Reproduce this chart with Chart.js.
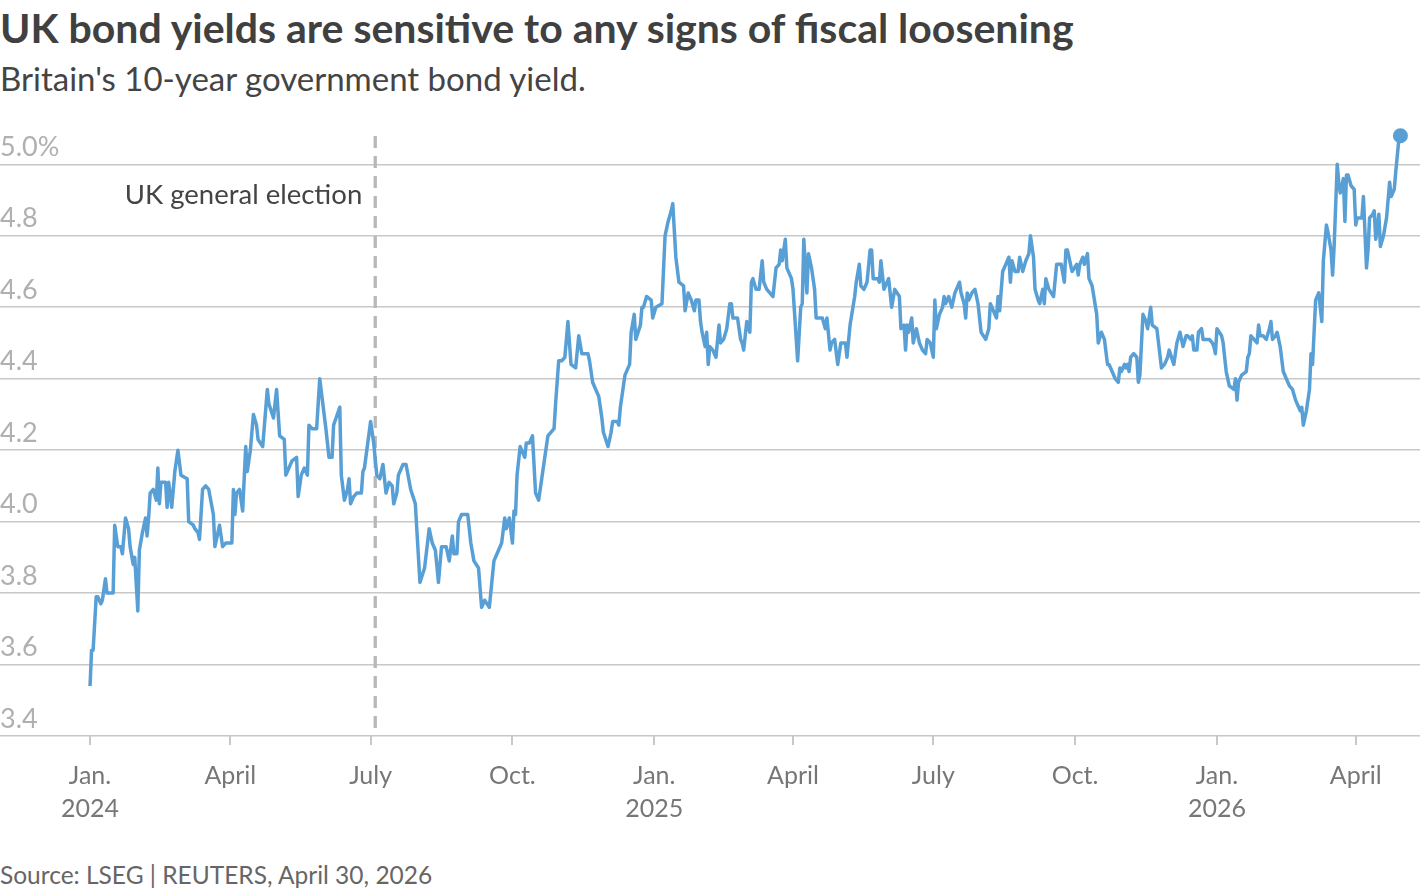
<!DOCTYPE html>
<html lang="en">
<head>
<meta charset="utf-8">
<title>UK bond yields</title>
<script src="https://cdn.jsdelivr.net/npm/chart.js@4.4.1/dist/chart.umd.min.js"></script>
<style>
    html, body { margin: 0; padding: 0; background: #fff; }
    body { position: relative; width: 1420px; height: 896px; overflow: hidden; font-family: Lato, "Open Sans", sans-serif; }
    .txt { position: absolute; left: 0; line-height: 1; white-space: nowrap; }
    #title { top: 7px; font-size: 41px; font-weight: 700; color: #404040; }
    #subtitle { top: 62px; font-size: 33px; color: #444; }
    #source { top: 863px; font-size: 24.5px; color: #666; }
    #chartBox { position: absolute; left: 0; top: 110px; width: 1420px; height: 726px; }
</style>
</head>
<body>
<div id="title" class="txt">UK bond yields are sensitive to any signs of fiscal loosening</div>
<div id="subtitle" class="txt">Britain's 10-year government bond yield.</div>
<div id="chartBox"><canvas id="yieldChart" width="1420" height="726"></canvas></div>
<div id="source" class="txt">Source: LSEG | REUTERS, April 30, 2026</div>

<script>
// Days are counted from 1 Jan 2024, yields in percent.
const days2024 = [
    0, 1, 2, 4, 5, 7, 8, 10, 11, 15, 16, 18, 20, 21, 23, 25, 26, 28, 29, 31,
    32, 34, 36, 37, 38, 39, 41, 43, 44, 45, 46, 49, 50, 51, 53, 55, 57, 59, 63, 64,
    67, 68, 70, 71, 73, 75, 77, 80, 81, 83, 84, 86, 88, 92, 93, 94, 95, 97, 99, 101,
    102, 104, 106, 108, 109, 112, 115, 116, 119, 121, 123, 126, 127, 129, 131, 134, 135, 137, 139, 141,
    142, 144, 147, 149, 151, 153, 155, 157, 158, 162, 163, 165, 167, 168, 169, 171, 173, 176, 177, 178,
    182, 184, 186, 188, 190, 192, 194, 196, 197, 199, 200, 203, 205, 208, 211, 214, 217, 220, 222, 224,
    226, 228, 231, 233, 235, 236, 238, 239, 241, 245, 247, 249, 252, 254, 256, 259, 262, 264, 267, 269,
    270, 272, 274, 275, 276, 277, 279, 282, 283, 285, 287, 289, 291, 293, 295, 297, 301, 302, 304, 306,
    308, 310, 312, 315, 317, 319, 323, 324, 326, 329, 330, 332, 333, 336, 338, 339, 342, 343, 344, 347,
    350, 351, 353, 354, 357, 358, 359, 361, 364, 365
];
const yields2024 = [
    3.54, 3.64, 3.64, 3.79, 3.79, 3.77, 3.78, 3.84, 3.80, 3.80, 3.99, 3.93, 3.93, 3.91, 4.01, 3.98, 3.93, 3.88, 3.90, 3.75,
    3.92, 3.97, 4.01, 3.96, 4.01, 4.08, 4.09, 4.06, 4.15, 4.05, 4.11, 4.11, 4.04, 4.11, 4.04, 4.14, 4.20, 4.13, 4.12, 4.00,
    3.99, 3.98, 3.97, 3.95, 4.09, 4.10, 4.09, 4.02, 3.93, 3.97, 3.99, 3.93, 3.94, 3.94, 4.09, 4.02, 4.08, 4.09, 4.03, 4.21,
    4.14, 4.20, 4.30, 4.27, 4.23, 4.21, 4.37, 4.33, 4.29, 4.37, 4.24, 4.23, 4.13, 4.15, 4.17, 4.18, 4.07, 4.13, 4.15, 4.13,
    4.27, 4.26, 4.26, 4.40, 4.33, 4.26, 4.18, 4.18, 4.27, 4.32, 4.13, 4.06, 4.09, 4.12, 4.05, 4.07, 4.08, 4.08, 4.14, 4.15,
    4.28, 4.22, 4.13, 4.12, 4.16, 4.08, 4.11, 4.10, 4.05, 4.08, 4.13, 4.16, 4.16, 4.09, 4.05, 3.83, 3.87, 3.98, 3.94, 3.92,
    3.83, 3.93, 3.93, 3.89, 3.96, 3.91, 3.91, 4.00, 4.02, 4.02, 3.94, 3.89, 3.87, 3.76, 3.78, 3.76, 3.89, 3.91, 3.94, 4.01,
    3.98, 4.01, 3.94, 4.03, 4.02, 4.13, 4.21, 4.18, 4.22, 4.22, 4.24, 4.08, 4.06, 4.12, 4.18, 4.24, 4.26, 4.33, 4.45, 4.45,
    4.46, 4.56, 4.44, 4.43, 4.52, 4.47, 4.47, 4.45, 4.39, 4.36, 4.35, 4.29, 4.25, 4.21, 4.25, 4.28, 4.28, 4.27, 4.32, 4.41,
    4.44, 4.53, 4.58, 4.51, 4.55, 4.60, 4.60, 4.63, 4.62, 4.57
];
const days2025 = [
    367, 371, 373, 375, 377, 378, 380, 382, 385, 386, 388, 390, 392, 393, 395, 396, 397, 399, 400, 401,
    402, 404, 406, 408, 409, 411, 413, 415, 416, 417, 420, 422, 423, 424, 426, 428, 429, 430, 432, 434,
    436, 437, 439, 441, 443, 445, 447, 448, 449, 451, 452, 455, 456, 459, 461, 462, 463, 465, 466, 468,
    470, 471, 475, 477, 478, 480, 481, 483, 485, 487, 490, 491, 493, 496, 497, 499, 500, 502, 504, 506,
    507, 508, 511, 512, 513, 515, 517, 518, 520, 522, 525, 526, 528, 529, 530, 531, 533, 534, 536, 538,
    540, 542, 543, 545, 547, 548, 549, 551, 553, 554, 555, 557, 559, 561, 562, 564, 565, 567, 568, 569,
    570, 572, 574, 576, 578, 581, 583, 584, 586, 588, 589, 590, 592, 594, 596, 597, 598, 600, 602, 603,
    605, 607, 609, 610, 612, 613, 615, 616, 618, 619, 620, 622, 625, 627, 630, 632, 633, 634, 636, 637,
    640, 641, 642, 644, 645, 647, 648, 650, 653, 654, 656, 658, 660, 661, 663, 665, 667, 668, 669, 671,
    672, 673, 674, 675, 677, 679, 680, 681, 683, 685, 686, 688, 689, 692, 695, 697, 699, 700, 703, 705,
    707, 709, 711, 712, 714, 715, 716, 718, 719, 721, 722, 726, 728, 729, 730
];
const yields2025 = [
    4.60, 4.61, 4.80, 4.84, 4.87, 4.89, 4.74, 4.67, 4.66, 4.59, 4.64, 4.62, 4.59, 4.62, 4.62, 4.56, 4.53, 4.49, 4.53, 4.44,
    4.49, 4.48, 4.46, 4.55, 4.50, 4.51, 4.54, 4.61, 4.61, 4.57, 4.57, 4.51, 4.50, 4.48, 4.56, 4.53, 4.67, 4.68, 4.65, 4.65,
    4.73, 4.67, 4.65, 4.64, 4.63, 4.71, 4.72, 4.76, 4.73, 4.79, 4.71, 4.68, 4.65, 4.45, 4.60, 4.61, 4.79, 4.64, 4.75, 4.71,
    4.65, 4.57, 4.57, 4.54, 4.57, 4.48, 4.50, 4.51, 4.44, 4.50, 4.50, 4.46, 4.55, 4.63, 4.67, 4.72, 4.66, 4.65, 4.67, 4.76,
    4.76, 4.68, 4.68, 4.67, 4.73, 4.65, 4.67, 4.68, 4.60, 4.65, 4.63, 4.54, 4.55, 4.48, 4.55, 4.53, 4.57, 4.50, 4.54, 4.50,
    4.48, 4.47, 4.51, 4.50, 4.46, 4.62, 4.54, 4.58, 4.60, 4.63, 4.61, 4.63, 4.60, 4.64, 4.65, 4.67, 4.64, 4.61, 4.57, 4.64,
    4.62, 4.64, 4.65, 4.61, 4.53, 4.51, 4.54, 4.61, 4.59, 4.57, 4.63, 4.59, 4.70, 4.72, 4.74, 4.67, 4.73, 4.70, 4.70, 4.74,
    4.70, 4.73, 4.75, 4.80, 4.74, 4.65, 4.62, 4.61, 4.65, 4.61, 4.68, 4.65, 4.63, 4.72, 4.72, 4.67, 4.76, 4.76, 4.72, 4.70,
    4.72, 4.69, 4.72, 4.74, 4.72, 4.75, 4.68, 4.66, 4.58, 4.50, 4.53, 4.51, 4.44, 4.44, 4.42, 4.40, 4.39, 4.43, 4.42, 4.44,
    4.43, 4.44, 4.42, 4.46, 4.47, 4.46, 4.39, 4.41, 4.58, 4.56, 4.54, 4.60, 4.55, 4.54, 4.43, 4.44, 4.46, 4.48, 4.44, 4.50,
    4.53, 4.49, 4.52, 4.52, 4.51, 4.52, 4.48, 4.48, 4.53, 4.54, 4.51, 4.51, 4.50, 4.49, 4.47
];
const days2026 = [
    731, 734, 735, 737, 739, 742, 743, 744, 745, 747, 750, 751, 752, 753, 755, 757, 758, 759, 761, 763,
    765, 766, 767, 769, 770, 772, 774, 776, 778, 780, 782, 784, 785, 786, 787, 789, 790, 791, 792, 793,
    795, 797, 799, 800, 802, 803, 805, 806, 807, 809, 810, 811, 813, 814, 815, 816, 818, 820, 821, 822,
    825, 826, 828, 829, 830, 832, 833, 834, 836, 837, 839, 841, 842, 843, 844, 846, 847, 849, 850
];
const yields2026 = [
    4.54, 4.52, 4.50, 4.42, 4.38, 4.37, 4.40, 4.34, 4.39, 4.41, 4.42, 4.46, 4.47, 4.52, 4.51, 4.50, 4.55, 4.52, 4.52, 4.51,
    4.54, 4.56, 4.51, 4.52, 4.53, 4.49, 4.42, 4.40, 4.38, 4.37, 4.34, 4.32, 4.31, 4.32, 4.27, 4.31, 4.34, 4.37, 4.47, 4.44,
    4.62, 4.64, 4.56, 4.73, 4.83, 4.81, 4.76, 4.69, 4.77, 5.00, 4.95, 4.92, 4.96, 4.84, 4.97, 4.97, 4.94, 4.93, 4.83, 4.85,
    4.85, 4.91, 4.71, 4.76, 4.85, 4.86, 4.87, 4.79, 4.86, 4.77, 4.80, 4.85, 4.90, 4.95, 4.91, 4.93, 4.98, 5.07, 5.08
];

// Axis ticks: first day of each quarter, and the y gridlines
const tickDays = [0, 91, 182, 274, 366, 456, 547, 639, 731, 821];
const tickLabels = [["Jan.", "2024"], "April", "July", "Oct.", ["Jan.", "2025"], "April", "July", "Oct.", ["Jan.", "2026"], "April"];
const yTicks = [3.4, 3.6, 3.8, 4.0, 4.2, 4.4, 4.6, 4.8, 5.0];

// UK general election, 4 July 2024
const electionDay = 185;
const electionLabel = "UK general election";

document.addEventListener("DOMContentLoaded", () => {
    const canvas = document.getElementById("yieldChart");
    if (!canvas) {
        console.error("Chart canvas not found.");
        return;
    }

    const lineColor = "#589fd6";
    const gridColor = "#c8c8c8";

    const allDays = days2024.concat(days2025, days2026);
    const allYields = yields2024.concat(yields2025, yields2026);
    const points = allDays.map((d, i) => ({ x: d, y: allYields[i] }));
    const lastIndex = points.length - 1;

    // Dashed marker for the election plus its label
    const electionMarker = {
        id: "electionMarker",
        beforeDatasetsDraw(chart) {
            const { ctx, chartArea, scales } = chart;
            const x = scales.x.getPixelForValue(electionDay);
            ctx.save();
            ctx.strokeStyle = "#b8b8b8";
            ctx.lineWidth = 3.3;
            ctx.setLineDash([12, 8]);
            ctx.beginPath();
            ctx.moveTo(x, chartArea.top + 6);
            ctx.lineTo(x, chartArea.bottom);
            ctx.stroke();
            ctx.setLineDash([]);
            ctx.font = "27.5px Lato, sans-serif";
            ctx.fillStyle = "#444";
            ctx.textAlign = "right";
            ctx.textBaseline = "alphabetic";
            ctx.fillText(electionLabel, x - 13, scales.y.getPixelForValue(4.89));
            ctx.restore();
        }
    };

    Chart.defaults.font.family = "Lato, 'Open Sans', sans-serif";

    new Chart(canvas.getContext("2d"), {
        type: "line",
        data: {
            datasets: [{
                label: "UK 10-year gilt yield",
                data: points,
                borderColor: lineColor,
                borderWidth: 3.5,
                borderJoinStyle: "round",
                tension: 0,
                clip: false,
                pointRadius: ctx => (ctx.dataIndex === lastIndex ? 7.5 : 0),
                pointHoverRadius: 0,
                pointBackgroundColor: lineColor,
                pointBorderWidth: 0,
            }],
        },
        options: {
            responsive: false,
            animation: false,
            events: [],
            layout: { autoPadding: false, padding: { left: 0, right: 0, top: 20, bottom: 0 } },
            scales: {
                x: {
                    type: "linear",
                    min: -58.4,
                    max: 862.7,
                    afterBuildTicks: axis => { axis.ticks = tickDays.map(v => ({ value: v })); },
                    afterFit: axis => { axis.height = 100; },
                    border: { display: false },
                    grid: { drawOnChartArea: false, drawTicks: true, tickLength: 9, color: gridColor, lineWidth: 2 },
                    ticks: {
                        autoSkip: false,
                        maxRotation: 0,
                        padding: 14,
                        color: "#777",
                        font: { size: 25, lineHeight: 1.33 },
                        callback: (value, index) => tickLabels[index],
                    },
                },
                y: {
                    min: 3.4,
                    max: 5.096,
                    afterBuildTicks: axis => { axis.ticks = yTicks.map(v => ({ value: v })); },
                    border: { display: false },
                    grid: { color: gridColor, lineWidth: 1.5, drawTicks: false },
                    ticks: {
                        mirror: true,
                        padding: 0,
                        labelOffset: -17,
                        color: "#b0b0b0",
                        font: { size: 27 },
                        callback: value => (value === 5 ? "5.0%" : value.toFixed(1)),
                    },
                },
            },
            plugins: {
                legend: { display: false },
                tooltip: { enabled: false },
                title: { display: false },
            },
        },
        plugins: [electionMarker],
    });
});
</script>
</body>
</html>
